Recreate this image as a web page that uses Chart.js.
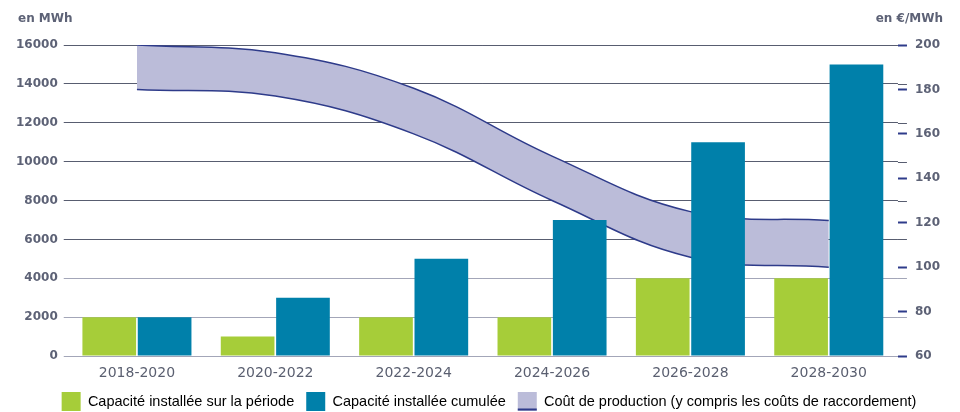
<!DOCTYPE html>
<html>
<head>
<meta charset="utf-8">
<script src="https://cdn.jsdelivr.net/npm/chart.js@4"></script>
<style>
  body { margin: 0; background: #fff; }
  #wrap { width: 960px; height: 412px; }
</style>
</head>
<body>
<div id="wrap"><canvas id="prodChart"></canvas></div>
<script>

const periods = ["2018-2020", "2020-2022", "2022-2024", "2024-2026", "2026-2028", "2028-2030"];
const capacityPeriod = [2000, 1000, 2000, 2000, 4000, 4000];
const capacityCumul = [2000, 3000, 5000, 7000, 11000, 15000];
const costHigh = [200, 196.5, 180.5, 150, 125, 121];
const costLow = [180, 177, 160, 130, 104.5, 100];

const legendNames = [
    "Capacité installée sur la période",
    "Capacité installée cumulée",
    "Coût de production (y compris les coûts de raccordement)"
];

const GREEN = "#a6cd39";
const BLUE = "#0080aa";
const BAND = "#bbbcd9";
const BAND_LINE = "#2e3b8a";
const TEXT = "#5d6276";


// =================== extra drawing ===================

const extras = {

    id: "extras",

    // legend sits a little right of centre in the original
    afterLayout(chart) {

        chart.legend.left += 10;
        chart.legend.right += 10;

    },

    // left grid lines run a bit past the plot on the right side
    beforeDraw(chart) {

        const { ctx, chartArea, scales } = chart;
        const y = scales.y;

        ctx.save();
        y.ticks.forEach(t => {
            const py = Math.round(y.getPixelForValue(t.value)) + 0.5;
            ctx.strokeStyle = t.value <= 4000 ? "#a3a6b8" : "#585d70";
            ctx.lineWidth = 1;
            ctx.beginPath();
            ctx.moveTo(chartArea.right, py);
            ctx.lineTo(chartArea.right + 9, py);
            ctx.stroke();
        });
        ctx.restore();

    },

    afterDraw(chart) {

        const { ctx } = chart;

        ctx.save();
        ctx.fillStyle = TEXT;
        ctx.font = "bold 12px 'DejaVu Sans'";
        ctx.textBaseline = "middle";
        ctx.textAlign = "left";
        ctx.fillText("en MWh", 18, 19);
        ctx.textAlign = "right";
        ctx.fillText("en €/MWh", 943, 19);

        // underline of the band legend box
        const box = chart.legend.legendHitBoxes[2];
        if (box) {
            const bottom = box.top + box.height / 2 + 9.5;
            ctx.fillStyle = BAND_LINE;
            ctx.fillRect(box.left, bottom - 2.5, 19, 2);
        }
        ctx.restore();

    }

};


const ctx = document.getElementById("prodChart").getContext("2d");

new Chart(ctx, {

    data: {

        labels: periods,

        datasets: [{
            type: "bar",
            label: legendNames[0],
            data: capacityPeriod,
            backgroundColor: GREEN,
            categoryPercentage: 0.8,
            barPercentage: 0.97,
            yAxisID: "y",
            order: 0
        }, {
            type: "bar",
            label: legendNames[1],
            data: capacityCumul,
            backgroundColor: BLUE,
            categoryPercentage: 0.8,
            barPercentage: 0.97,
            yAxisID: "y",
            order: 0
        }, {
            type: "line",
            label: legendNames[2],
            data: costHigh,
            borderColor: BAND_LINE,
            borderWidth: 1.5,
            pointRadius: 0,
            tension: 0.4,
            fill: false,
            yAxisID: "yCost",
            order: 1
        }, {
            type: "line",
            label: "low",
            data: costLow,
            borderColor: BAND_LINE,
            borderWidth: 1.5,
            backgroundColor: BAND,
            pointRadius: 0,
            tension: 0.4,
            fill: "-1",
            yAxisID: "yCost",
            order: 1
        }]
    },

    options: {

        responsive: true,
        maintainAspectRatio: false,
        animation: false,

        layout: {
            padding: { top: 45, left: 10, right: 12, bottom: -9 }
        },

        scales: {

            x: {
                offset: true,
                grid: { display: false, tickLength: 0 },
                border: { color: "#a3a6b8" },
                ticks: {
                    color: "#5a5f70",
                    font: { family: "'DejaVu Sans'", size: 14 },
                    padding: 9
                },
                // labels hang a little closer to the legend
                afterFit: s => { s.height = 24; }
            },

            y: {
                position: "left",
                min: 0,
                max: 16000,
                ticks: {
                    stepSize: 2000,
                    callback: v => String(v),
                    color: TEXT,
                    font: { family: "'DejaVu Sans'", size: 12, weight: "bold" },
                    padding: 6
                },
                grid: {
                    color: c => c.tick && c.tick.value <= 4000 ? "#a3a6b8" : "#585d70",
                    tickLength: 4
                },
                border: { display: false }
            },

            yCost: {
                position: "right",
                min: 60,
                max: 200,
                ticks: {
                    stepSize: 20,
                    color: TEXT,
                    font: { family: "'DejaVu Sans'", size: 12, weight: "bold" },
                    padding: 8
                },
                grid: {
                    drawOnChartArea: false,
                    tickLength: 9,
                    tickWidth: 2,
                    tickColor: BAND_LINE
                },
                border: { display: false }
            }
        },

        plugins: {

            tooltip: { enabled: false },

            legend: {
                position: "bottom",
                labels: {
                    boxWidth: 19,
                    boxHeight: 19,
                    padding: 12,
                    color: "#6b7080",
                    font: { family: "'Liberation Sans'", size: 14.5 },
                    generateLabels: () => [
                        { text: legendNames[0], fillStyle: GREEN, lineWidth: 0, strokeStyle: GREEN, datasetIndex: 0 },
                        { text: legendNames[1], fillStyle: BLUE, lineWidth: 0, strokeStyle: BLUE, datasetIndex: 1 },
                        { text: legendNames[2], fillStyle: BAND, lineWidth: 0, strokeStyle: BAND, datasetIndex: 2 }
                    ]
                }
            }
        }
    },

    plugins: [extras]

});

</script>
</body>
</html>
